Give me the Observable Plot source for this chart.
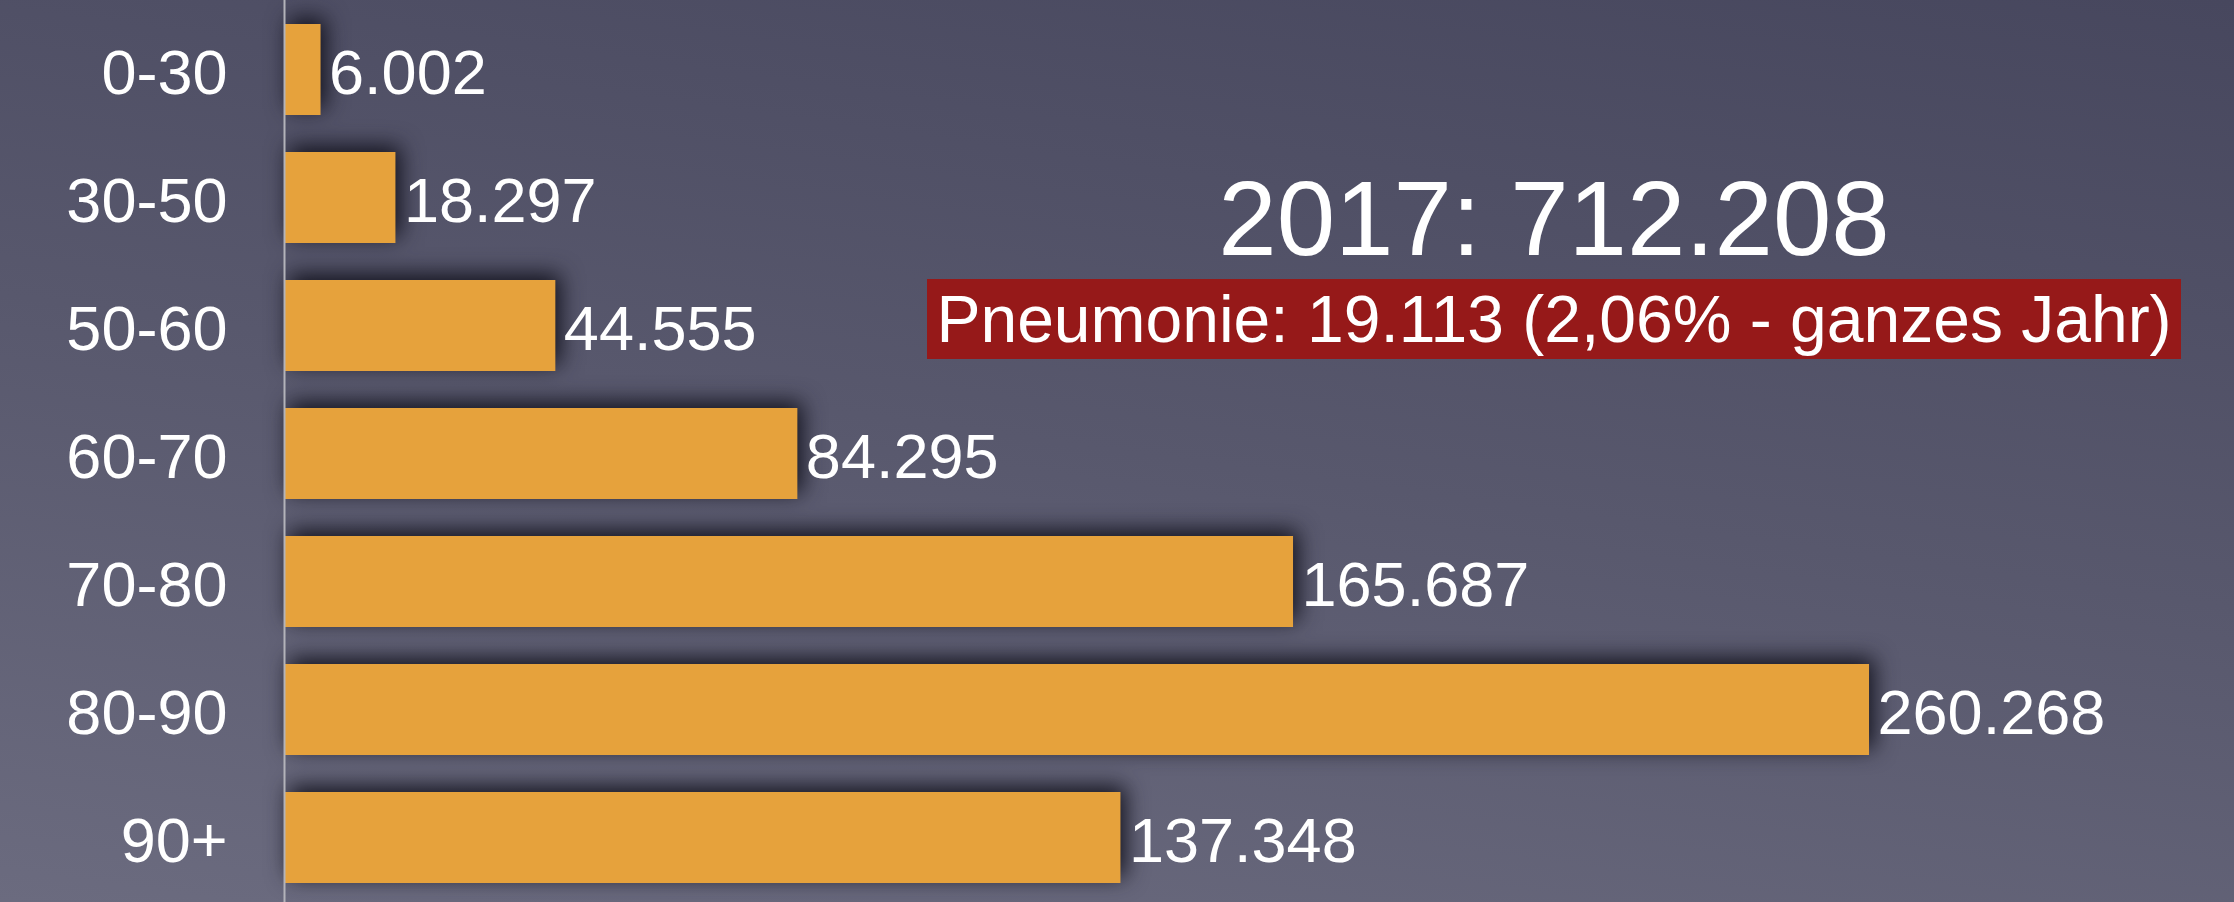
<!DOCTYPE html>
<html>
<head>
<meta charset="utf-8">
<script src="https://cdn.jsdelivr.net/npm/d3@7"></script>
<script src="https://cdn.jsdelivr.net/npm/@observablehq/plot@0.6"></script>
<style>
  html, body { margin: 0; padding: 0; width: 2234px; height: 902px; overflow: hidden; }
  body { background: linear-gradient(188deg, #47475e 0%, #58586d 50%, #6b6b7f 100%); font-family: "Liberation Sans", Arial, Helvetica, sans-serif; }
  #wrap { position: relative; width: 2234px; height: 902px; }
  #wrap svg { display: block; }
  #wrap svg g[aria-label="bar"] { filter: drop-shadow(5px -6px 11px rgba(15,15,25,0.95)); }
  #title { position: absolute; left: 1054px; width: 1000px; top: 166px; text-align: center; color: #fff; font-size: 105px; line-height: 105px; white-space: nowrap; }
  #note { position: absolute; left: 927px; top: 279px; width: 1254px; height: 80px; background: #961919; color: #fff; font-size: 66px; line-height: 80px; text-align: center; white-space: nowrap; }
</style>
</head>
<body>
<div id="wrap"></div>
<script>
const ages = ["0-30", "30-50", "50-60", "60-70", "70-80", "80-90", "90+"];
const deaths = [6002, 18297, 44555, 84295, 165687, 260268, 137348];
const titleText = "2017: 712.208";
const noteText = "Pneumonie: 19.113 (2,06% - ganzes Jahr)";

const de = d3.formatLocale({decimal: ",", thousands: ".", grouping: [3], currency: ["", " €"]});
const fmt = de.format(",d");
const data = ages.map((a, i) => ({age: a, value: deaths[i]}));

const chart = Plot.plot({
  width: 2234,
  height: 902,
  marginLeft: 284,
  marginRight: 123,
  marginTop: 21,
  marginBottom: 16,
  style: {background: "transparent", color: "#fff", fontFamily: "'Liberation Sans', Arial, Helvetica, sans-serif", fontSize: "63px"},
  x: {domain: [0, 300000], axis: null},
  y: {domain: ages, paddingInner: 0.286, paddingOuter: 0, label: null},
  marks: [
    Plot.barX(data, {y: "age", x: "value", fill: "#e6a23c"}),
    Plot.ruleX([0], {stroke: "#b3b3ba", strokeWidth: 2, insetTop: -21, insetBottom: -16}),
    Plot.text(data, {y: "age", x: "value", text: d => fmt(d.value), textAnchor: "start", dx: 8, dy: 4, fill: "#fff", fontSize: 63}),
    Plot.axisY({tickSize: 0, tickPadding: 57, dy: 4, fontSize: 63, fill: "#fff", label: null})
  ]
});
const wrap = document.getElementById("wrap");
wrap.appendChild(chart);
const t = document.createElement("div"); t.id = "title"; t.textContent = titleText; wrap.appendChild(t);
const n = document.createElement("div"); n.id = "note"; n.textContent = noteText; wrap.appendChild(n);
</script>
</body>
</html>
